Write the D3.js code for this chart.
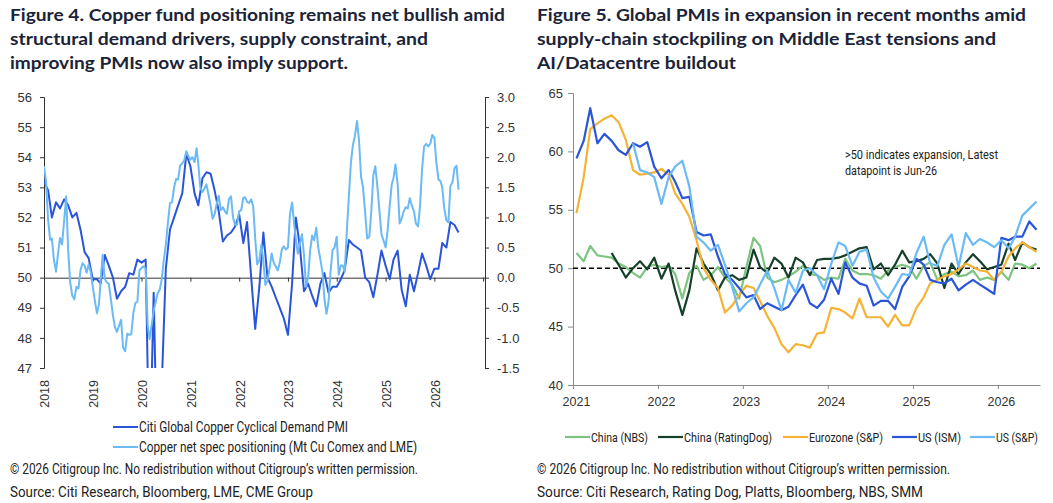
<!DOCTYPE html>
<html>
<head>
<meta charset="utf-8">
<title>Copper positioning and global PMIs</title>
<script src="https://cdn.jsdelivr.net/npm/d3@7"></script>
<style>
  body { margin: 0; background: #fff; }
  svg { display: block; }
  .title { font-family: Lato, "Noto Sans", sans-serif; font-weight: 700; font-size: 17px; fill: #1b2338; }
  .narrow { font-family: "Liberation Sans Narrow", Roboto, sans-serif; fill: #222; }
  .tick text { font-family: "Liberation Sans", Arial, sans-serif; font-size: 13px; fill: #333; }
</style>
</head>
<body>
<svg width="1053" height="503"></svg>
<script>
// ---- Figure 4 data (monthly PMI from Jan-2018, spec positioning twice a month from Jan-2018)
const pmiValues = [
  53.2, 52.9, 52.0, 52.5, 52.3, 52.6, 52.4, 52.0, 52.15, 51.6, 50.85, 50.65,
  49.95, 49.95, 49.8, 50.75, 50.4, 50.0, 49.3, 49.55, 49.7, 50.15, 50.1, 50.6,
  50.5, 50.6, 43.5, 49.5, 43.0, 46.5, 50.3, 51.6, 52.0, 52.4, 52.8, 54.1,
  53.7, 52.8, 52.4, 53.3, 53.5, 53.45, 52.9, 52.2, 51.2, 51.4, 51.5, 51.7,
  52.1, 51.15, 51.85, 50.0, 48.3, 49.7, 51.5, 50.0, 49.7, 49.35, 49.0, 48.65,
  48.1, 49.8, 52.0, 51.0, 49.55, 49.8, 49.4, 49.05, 49.8, 50.15, 49.5, 49.7,
  49.7, 49.95, 50.25, 51.25, 51.1, 51.0, 50.9, 50.0, 49.85, 49.35, 50.1, 50.9,
  50.4, 49.95, 50.6, 50.9, 49.6, 49.05, 50.1, 49.55, 50.15, 50.8, 50.4, 49.95,
  50.3, 50.3, 51.15, 51.0, 51.85, 51.75, 51.5
];
const specValues = [
  1.85, 1.6, 0.95, 0.63, 0.65, 0.3, 0.1, 0.4, 0.66, 0.55, 0.95, 1.35,
  0.45, -0.08, -0.3, -0.36, -0.15, -0.18, 0.12, 0.24, 0.2, 0.08, 0.22, 0.1,
  -0.15, -0.37, -0.59, -0.45, -0.05, 0.38, -0.02, -0.08, -0.1, -0.35, -0.62, -0.82,
  -0.9, -0.8, -0.7, -1.16, -1.22, -0.93, -0.95, -0.94, -0.58, -0.42, -0.4, 0.12,
  0.16, 0.19, 0.15, -0.78, -1.02, -0.8, -0.55, -0.4, -0.26, -0.2, -0.02, 0.3,
  0.55, 0.9, 1.24, 1.25, 1.5, 1.64, 1.63, 1.86, 1.9, 1.95, 2.1, 2.02,
  1.96, 2.0, 1.92, 2.15, 1.88, 1.5, 1.42, 1.48, 1.55, 1.38, 1.2, 0.98,
  1.05, 1.22, 1.36, 1.12, 1.17, 1.1, 1.06, 1.3, 1.35, 1.0, 0.88, 0.88,
  1.1, 1.12, 1.33, 1.33, 1.26, 1.24, 1.3, 1.18, 0.65, 0.22, 0.3, 0.55,
  0.28, -0.12, -0.05, 0.15, 0.4, 0.25, 0.19, 0.12, 0.25, 0.47, 0.52, 0.47,
  0.5, 1.05, 1.25, 0.9, 0.65, 0.4, 0.57, 0.72, 0.38, -0.15, 0.0, 0.45,
  0.7, 0.62, 0.83, 0.5, 0.3, 0.1, -0.35, -0.6, -0.4, 0.1, 0.46, 0.5,
  0.68, 0.05, 0.2, 0.2, 0.1, 0.75, 1.35, 1.9, 2.2, 2.35, 2.6, 2.28,
  1.68, 1.5, 1.08, 0.65, 0.68, 1.1, 1.7, 1.85, 1.5, 1.1, 0.72, 0.62,
  0.5, 0.78, 1.2, 1.55, 1.65, 1.88, 1.55, 0.9, 0.98, 1.1, 1.17, 1.15,
  1.32, 1.2, 1.1, 0.9, 0.85, 1.2, 1.8, 2.18, 2.22, 2.18, 2.22, 2.37,
  2.32, 1.9, 1.63, 1.6, 1.5, 1.15, 0.95, 0.92, 1.52, 1.58, 1.82, 1.86,
  1.46
];
const leftYears = ["2018", "2019", "2020", "2021", "2022", "2023", "2024", "2025", "2026"];
const leftSeries = ["Citi Global Copper Cyclical Demand PMI", "Copper net spec positioning (Mt Cu Comex and LME)"];

// ---- Figure 5 data (monthly, Jan-2021 to Jun-2026)
const chinaNBS = [
  51.3, 50.6, 51.9, 51.1, 51.0, 50.9, 50.4, 50.1, 49.6, 49.2, 50.1, 50.3,
  50.1, 50.2, 49.5, 47.4, 49.6, 50.2, 49.0, 49.4, 50.1, 49.2, 48.6, 47.4,
  50.1, 52.6, 51.9, 49.2, 48.8, 49.0, 49.3, 49.7, 50.2, 49.5, 49.4, 49.0,
  49.2, 49.1, 50.8, 49.8, 49.5, 49.5, 49.4, 49.1, 49.8, 50.1, 50.3, 50.1,
  49.1, 50.2, 50.5, 49.0, 49.5, 49.7, 49.3, 49.4, 49.8, 49.0, 49.2, 49.0,
  49.7, 49.0, 50.4, 50.3, 50.0, 50.4
];
const chinaRatingDog = [
  null, null, null, null, null, 51.3, 50.3, 49.2, 50.0, 50.6, 49.9, 50.9,
  49.1, 50.4, 48.1, 46.0, 48.1, 51.7, 50.4, 49.5, 48.1, 49.2, 49.4, 49.0,
  49.2, 51.6, 50.1, 49.6, 50.9, 50.4, 49.2, 50.9, 50.5, 49.4, 50.7, 50.8,
  50.8, 50.9, 51.1, 51.4, 51.7, 51.8, 49.9, 50.4, 49.4, 50.3, 51.5, 50.5,
  50.6, 50.8, 51.2, 50.4, 48.3, 50.4, 49.5, 50.5, 51.2, 50.6, 49.9, 50.1,
  50.3, 52.1, 50.7, 52.2, 51.8, 51.6
];
const eurozone = [
  54.7, 57.8, 61.9, 62.4, 62.8, 63.1, 62.5, 61.0, 58.4, 58.0, 58.1, 58.2,
  58.5, 58.0, 56.4, 55.5, 54.4, 52.4, 50.0, 49.0, 48.3, 46.2, 46.8, 47.7,
  48.5, 48.3, 47.2, 45.9, 44.9, 43.5, 42.8, 43.5, 43.4, 43.2, 44.4, 44.5,
  46.6, 46.5, 46.2, 45.7, 47.4, 45.8, 45.8, 45.8, 45.0, 46.0, 45.1, 45.1,
  46.6, 47.5, 48.7, 49.0, 49.3, 49.5, 49.9, 50.4, 50.1, 49.8, 49.7, 49.0,
  49.7, 51.0, 51.7, 52.2, 51.8, 51.4
];
const usISM = [
  59.4, 60.9, 63.7, 60.7, 61.5, 60.9, 60.1, 59.7, 60.7, 60.4, 60.8, 58.7,
  57.7, 58.4, 57.4, 56.0, 56.1, 53.1, 52.8, 52.9, 51.0, 49.5, 49.0, 48.3,
  47.5, 47.7, 46.5, 47.0, 46.7, 46.4, 46.7, 47.7, 48.6, 47.0, 46.6, 47.3,
  49.1, 47.8, 50.5, 49.2, 48.7, 48.5, 46.8, 47.2, 47.2, 46.5, 48.4, 49.3,
  50.8, 50.3, 49.0, 48.8, 48.7, 49.1, 48.1, 48.6, 49.0, 48.6, 48.2, 47.8,
  52.6, 52.4, 52.7, 52.7, 54.0, 53.3
];
const usSP = [
  null, null, null, null, null, null, null, null, 60.7, 58.4, 58.2, 57.8,
  55.5, 57.8, 58.7, 59.2, 57.0, 52.7, 52.2, 51.5, 52.0, 50.3, 48.4, 46.3,
  47.0, 47.5, 48.6, 49.8, 48.3, 46.4, 49.0, 47.9, 49.8, 50.0, 49.4, 48.2,
  50.4, 52.2, 51.9, 50.2, 51.4, 51.6, 49.2, 48.0, 47.4, 48.4, 49.5, 49.4,
  51.3, 52.7, 50.4, 50.2, 52.0, 52.9, 50.1, 53.0, 52.0, 52.5, 52.2, 51.8,
  52.4, 51.7, 52.7, 54.5, 55.1, 55.7
];
const rightYears = ["2021", "2022", "2023", "2024", "2025", "2026"];
const pmiNames = ["China (NBS)", "China (RatingDog)", "Eurozone (S&P)", "US (ISM)", "US (S&P)"];
const pmiColors = ["#7cc47f", "#17402a", "#f5b335", "#2a55d8", "#6cbaf5"];

const svg = d3.select("svg");

function fit(sel, w) {
  sel.attr("textLength", w).attr("lengthAdjust", "spacingAndGlyphs");
}

// ================= Figure 4 =================
const t4 = ["Figure 4. Copper fund positioning remains net bullish amid",
            "structural demand drivers, supply constraint, and",
            "improving PMIs now also imply support."];
const t4w = [495, 418, 338];
t4.forEach((s, i) => {
  svg.append("text").attr("class", "title").attr("x", 10).attr("y", 21 + i * 24).text(s).call(fit, t4w[i]);
});

const x4 = d3.scaleTime().domain([new Date(2018, 0, 1), new Date(2027, 0, 15)]).range([44, 485]);
const yL = d3.scaleLinear().domain([47, 56]).range([368, 97]);
const yR = d3.scaleLinear().domain([-1.5, 3]).range([368, 97]);

const pmiData = pmiValues.map((v, i) => ({ date: d3.timeMonth.offset(new Date(2018, 0, 1), i), v }));
const specData = specValues.map((v, i) => ({ date: new Date(2018, Math.floor(i / 2), i % 2 ? 16 : 1), v }));

svg.append("clipPath").attr("id", "clip4").append("rect")
  .attr("x", 44).attr("y", 97).attr("width", 441).attr("height", 271);

const ax4l = svg.append("g").attr("transform", "translate(44,0)")
  .call(d3.axisLeft(yL).ticks(9).tickSize(4).tickPadding(8));
const ax4r = svg.append("g").attr("transform", "translate(485,0)")
  .call(d3.axisRight(yR).tickValues(d3.range(-1.5, 3.01, 0.5)).tickSize(4).tickPadding(8)
    .tickFormat(d => d.toFixed(1)));
const ax4x = svg.append("g").attr("transform", `translate(0,${yL(50)})`)
  .call(d3.axisBottom(x4).ticks(d3.timeYear).tickSize(4).tickSizeOuter(0).tickFormat(""));
[ax4l, ax4r, ax4x].forEach(g => {
  g.selectAll("path, line").attr("stroke", "#333");
});

svg.append("g").selectAll("text").data(leftYears).join("text")
  .attr("transform", d => `translate(${x4(new Date(+d, 0, 1)) + 1},380) rotate(-90)`)
  .attr("text-anchor", "end").attr("dy", "0.35em")
  .style("font-family", '"Liberation Sans", Arial, sans-serif').style("font-size", "12.5px").attr("fill", "#333")
  .text(d => d);

const plot4 = svg.append("g").attr("clip-path", "url(#clip4)");
plot4.append("path").datum(pmiData)
  .attr("fill", "none").attr("stroke", "#2a55d8").attr("stroke-width", 2).attr("stroke-linejoin", "round")
  .attr("d", d3.line().x(d => x4(d.date)).y(d => yL(d.v)));
plot4.append("path").datum(specData)
  .attr("fill", "none").attr("stroke", "#6cbaf5").attr("stroke-width", 2).attr("stroke-linejoin", "round")
  .attr("d", d3.line().x(d => x4(d.date)).y(d => yR(d.v)));

const leg4 = svg.append("g");
leftSeries.forEach((s, i) => {
  const y = 427 + i * 20;
  leg4.append("line").attr("x1", 113).attr("x2", 138).attr("y1", y).attr("y2", y)
    .attr("stroke", i ? "#6cbaf5" : "#2a55d8").attr("stroke-width", 2);
  leg4.append("text").attr("class", "narrow").attr("x", 139).attr("y", y + 5)
    .style("font-size", "14px").text(s).call(fit, i ? 278 : 209);
});

// ================= Figure 5 =================
const t5 = ["Figure 5. Global PMIs in expansion in recent months amid",
            "supply-chain stockpiling on Middle East tensions and",
            "AI/Datacentre buildout"];
const t5w = [489, 459, 199];
t5.forEach((s, i) => {
  svg.append("text").attr("class", "title").attr("x", 537).attr("y", 21 + i * 24).text(s).call(fit, t5w[i]);
});

const x5 = d3.scaleTime().domain([new Date(2021, 0, 1), new Date(2026, 6, 1)]).range([573, 1040]);
const y5 = d3.scaleLinear().domain([40, 65]).range([385, 93]);

const ax5y = svg.append("g").attr("transform", "translate(573,0)")
  .call(d3.axisLeft(y5).tickValues(d3.range(40, 66, 5)).tickSize(5).tickPadding(5));
const ax5x = svg.append("g").attr("transform", "translate(0,385)")
  .call(d3.axisBottom(x5).ticks(d3.timeYear).tickSize(4).tickSizeOuter(0).tickPadding(8)
    .tickFormat((d, i) => rightYears[i]));
[ax5y, ax5x].forEach(g => g.selectAll("path, line").attr("stroke", "#8a8a8a"));
ax5x.selectAll("text").attr("dx", 3).style("font-size", "12.5px");

svg.append("line").attr("x1", x5.range()[0]).attr("x2", x5.range()[1])
  .attr("y1", y5(50)).attr("y2", y5(50))
  .attr("stroke", "#000").attr("stroke-width", 1.6).attr("stroke-dasharray", "5,3");

const line5 = d3.line().defined(d => d.v != null).x(d => x5(d.date)).y(d => y5(d.v));
[chinaNBS, chinaRatingDog, eurozone, usISM, usSP].forEach((arr, k) => {
  const data = arr.map((v, i) => ({ date: new Date(2021, i, 16), v }));
  svg.append("path").datum(data)
    .attr("fill", "none").attr("stroke", pmiColors[k]).attr("stroke-width", 2.2).attr("stroke-linejoin", "round")
    .attr("d", line5);
});

const note = [">50 indicates expansion, Latest", "datapoint is Jun-26"];
const noteW = [153, 92];
note.forEach((s, i) => {
  svg.append("text").attr("class", "narrow").attr("x", 845).attr("y", 159 + i * 16)
    .style("font-size", "13.5px").text(s).call(fit, noteW[i]);
});

const legX = [565, 658, 783, 892, 970];
const legW = [57, 88, 74, 43, 42];
pmiNames.forEach((s, i) => {
  svg.append("line").attr("x1", legX[i]).attr("x2", legX[i] + 25).attr("y1", 437).attr("y2", 437)
    .attr("stroke", pmiColors[i]).attr("stroke-width", 2.2);
  svg.append("text").attr("class", "narrow").attr("x", legX[i] + 26).attr("y", 442)
    .style("font-size", "13.5px").text(s).call(fit, legW[i]);
});

// ================= footers =================
const copyright = "\u00a9 2026 Citigroup Inc. No redistribution without Citigroup\u2019s written permission.";
const sources = ["Source: Citi Research, Bloomberg, LME, CME Group",
                 "Source: Citi Research, Rating Dog, Platts, Bloomberg, NBS, SMM"];
[[10, 408, 303], [537, 413, 386]].forEach(([x, w1, w2], i) => {
  svg.append("text").attr("class", "narrow").attr("x", x).attr("y", 474)
    .style("font-size", "14.5px").text(copyright).call(fit, w1);
  svg.append("text").attr("class", "narrow").attr("x", x).attr("y", 497)
    .style("font-size", "14.5px").text(sources[i]).call(fit, w2);
});
</script>
</body>
</html>
